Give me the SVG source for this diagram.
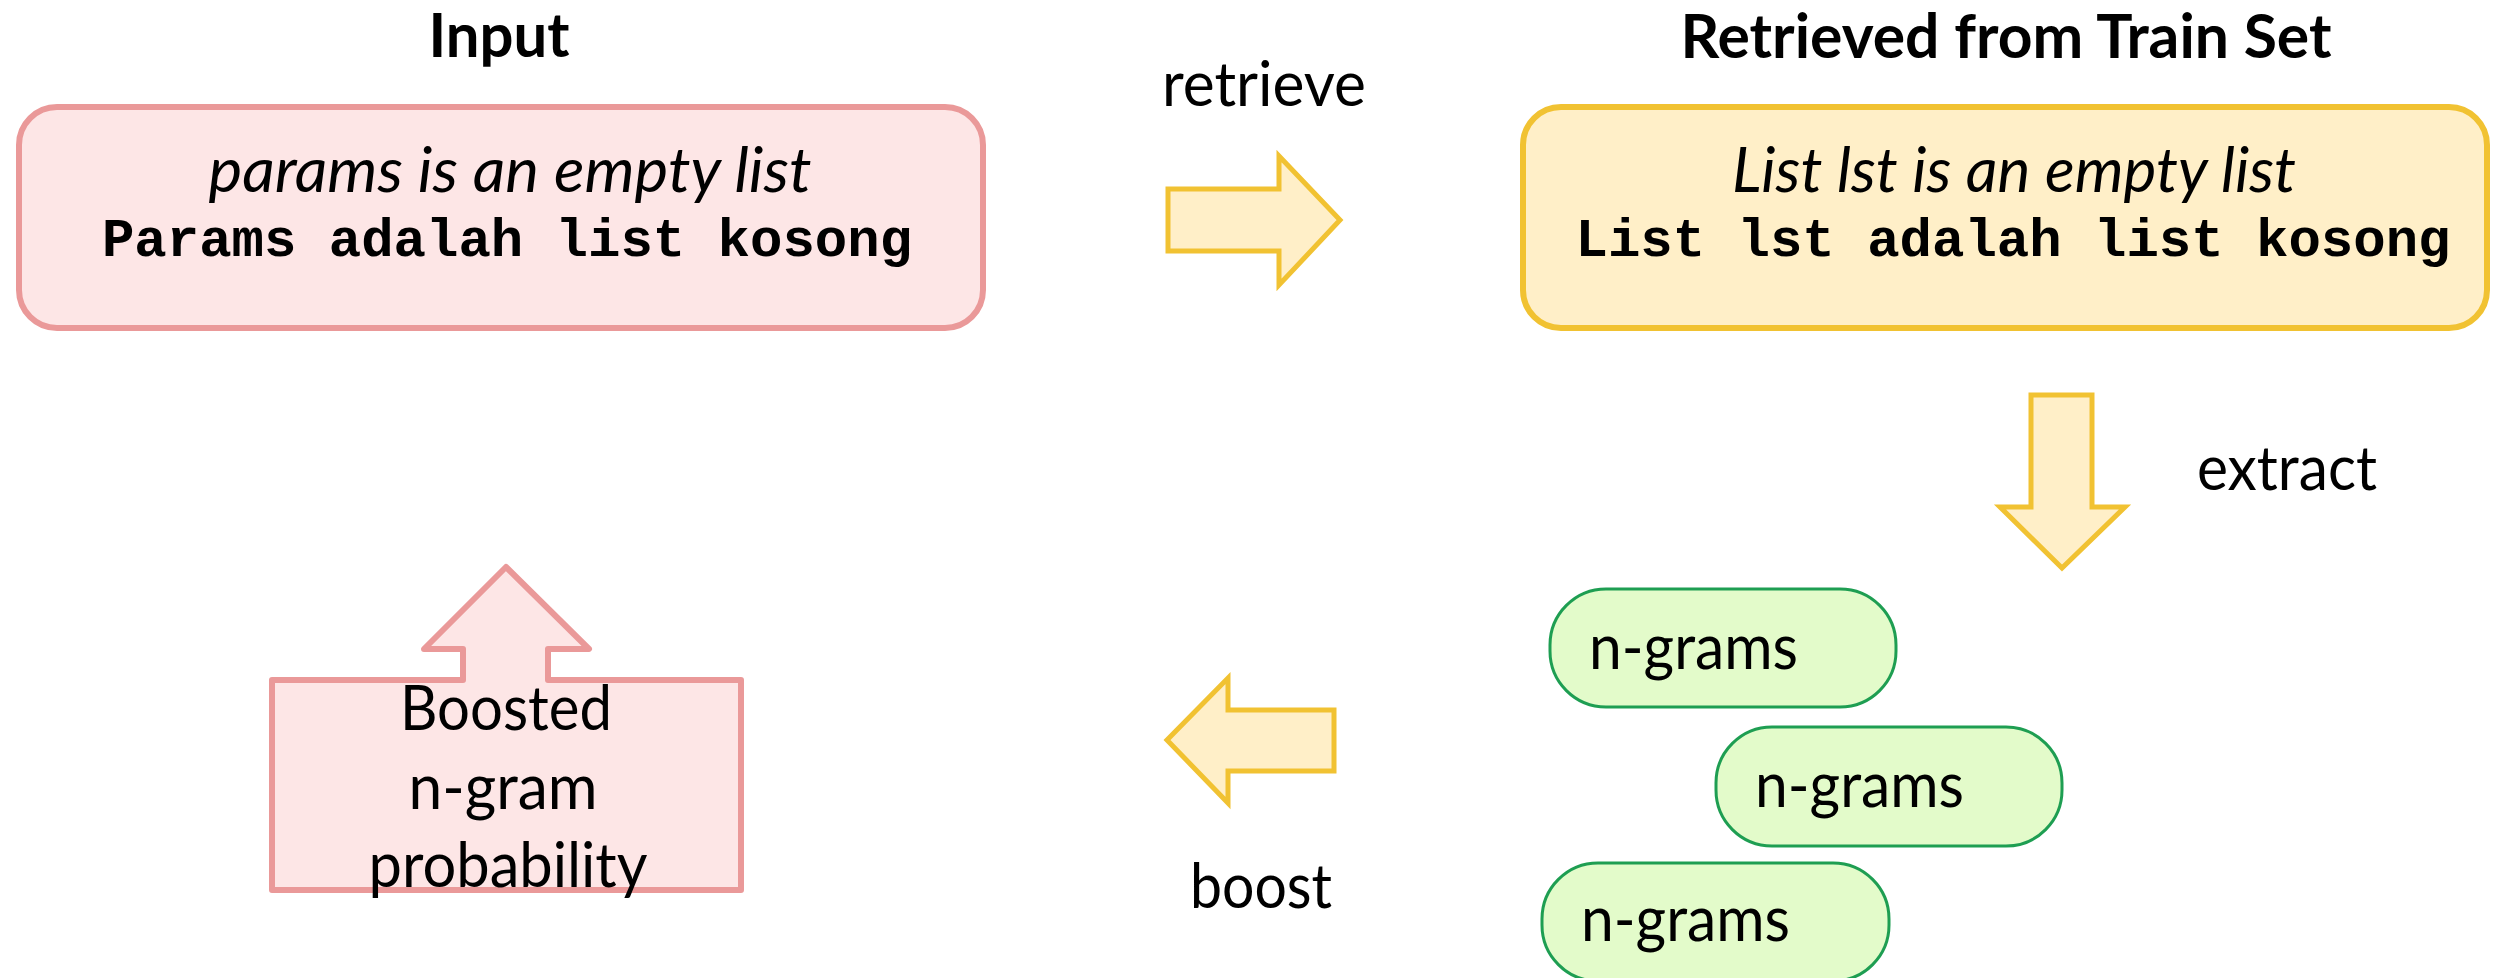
<svg xmlns="http://www.w3.org/2000/svg" width="2506" height="978" viewBox="0 0 2506 978">
<style>
.cal{font-family:Lato,"Open Sans","Liberation Sans",sans-serif;font-size:62px;fill:#000}
.b{font-weight:bold}
.it{font-style:italic}
.mono{font-family:"Liberation Mono","Courier New",monospace;font-weight:bold;font-size:54px;fill:#000}
.pink{fill:#FDE6E6;stroke:#EA9999;stroke-width:6;stroke-linejoin:round}
.yel{fill:#FFEFC8;stroke:#F1C232;stroke-width:5}
.grn{fill:#E3FBCA;stroke:#1E9E52;stroke-width:3}
</style>
<rect width="2506" height="978" fill="#fff"/>
<g id="input">
<text class="cal b" x="499" y="57" text-anchor="middle" textLength="141" lengthAdjust="spacingAndGlyphs">Input</text>
<rect class="pink" x="19" y="107" width="964" height="221" rx="38"/>
<text class="cal it" x="510" y="192" text-anchor="middle" textLength="603" lengthAdjust="spacingAndGlyphs">params is an empty list</text>
<text class="mono" x="507" y="256" text-anchor="middle">Params adalah list kosong</text>
</g>
<g id="retrieved">
<text class="cal b" x="2006" y="58" text-anchor="middle" textLength="651" lengthAdjust="spacingAndGlyphs">Retrieved from Train Set</text>
<rect x="1523" y="107" width="964" height="221" rx="38" fill="#FFEFC8" stroke="#F1C232" stroke-width="6"/>
<text class="cal it" x="2014" y="192" text-anchor="middle" textLength="564" lengthAdjust="spacingAndGlyphs">List lst is an empty list</text>
<text class="mono" x="2013" y="256" text-anchor="middle">List lst adalah list kosong</text>
</g>
<g id="ngrams1">
<rect class="grn" x="1550" y="589" width="346" height="118" rx="56"/>
<text class="cal" x="1589" y="669" textLength="209" lengthAdjust="spacingAndGlyphs">n-grams</text>
</g>
<g id="ngrams2">
<rect class="grn" x="1716" y="727" width="346" height="119" rx="56"/>
<text class="cal" x="1755" y="807" textLength="209" lengthAdjust="spacingAndGlyphs">n-grams</text>
</g>
<g id="ngrams3">
<rect class="grn" x="1542" y="863" width="347" height="118" rx="56"/>
<text class="cal" x="1581" y="941" textLength="209" lengthAdjust="spacingAndGlyphs">n-grams</text>
</g>
<g id="boosted">
<path class="pink" d="M272,680 L463,680 L463,649 L424,649 L506,567 L589,649 L548,649 L548,680 L741,680 L741,890 L272,890 Z"/>
<text class="cal" x="506" y="730" text-anchor="middle" textLength="212" lengthAdjust="spacingAndGlyphs">Boosted</text>
<text class="cal" x="503" y="809" text-anchor="middle" textLength="189" lengthAdjust="spacingAndGlyphs">n-gram</text>
<text class="cal" x="508" y="887" text-anchor="middle" textLength="279" lengthAdjust="spacingAndGlyphs">probability</text>
</g>
<g id="connectors">
<path class="yel" d="M1168,189 L1279,189 L1279,156 L1340,220 L1279,285 L1279,251 L1168,251 Z"/>
<text class="cal" x="1264" y="106" text-anchor="middle" textLength="204" lengthAdjust="spacingAndGlyphs">retrieve</text>
<path class="yel" d="M2031,395 L2092,395 L2092,507 L2125,507 L2062,568 L2000,507 L2031,507 Z"/>
<text class="cal" x="2287" y="490" text-anchor="middle" textLength="180" lengthAdjust="spacingAndGlyphs">extract</text>
<path class="yel" d="M1334,710 L1228,710 L1228,678 L1167,740 L1228,803 L1228,771 L1334,771 Z"/>
<text class="cal" x="1261" y="908" text-anchor="middle" textLength="142" lengthAdjust="spacingAndGlyphs">boost</text>
</g>
</svg>
